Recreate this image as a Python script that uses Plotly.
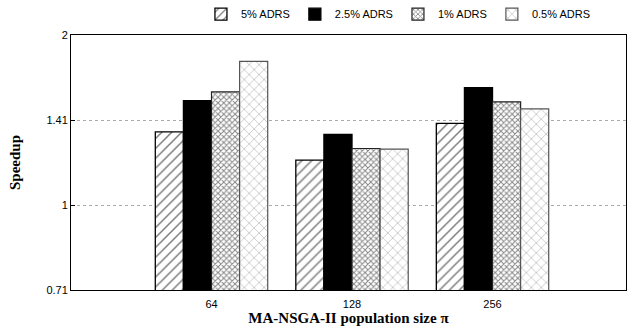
import plotly.graph_objects as go

# Population sizes and measured speedups per ADRS threshold
populations = ["64", "128", "256"]
speedup_5 = [1.347, 1.201, 1.395]
speedup_2_5 = [1.531, 1.333, 1.613]
speedup_1 = [1.586, 1.259, 1.523]
speedup_0_5 = [1.796, 1.256, 1.480]

series_names = ["5% ADRS", "2.5% ADRS", "1% ADRS", "0.5% ADRS"]
y_tick_vals = [0.7071, 1.0, 1.4142, 2.0]
y_tick_text = ["0.71", "1", "1.41", "2"]

styles = [
    dict(color="white", line=dict(color="black", width=1.3),
         pattern=dict(shape="/", fgcolor="black", bgcolor="white", size=7, solidity=0.22)),
    dict(color="black", line=dict(color="black", width=1.3)),
    dict(color="white", line=dict(color="#222", width=1.2),
         pattern=dict(shape="x", fgcolor="#111", bgcolor="white", size=4, solidity=0.45)),
    dict(color="white", line=dict(color="#555", width=1.2),
         pattern=dict(shape="x", fgcolor="#777", bgcolor="white", size=7, solidity=0.2)),
]

fig = go.Figure()
for name, vals, st in zip(series_names, [speedup_5, speedup_2_5, speedup_1, speedup_0_5], styles):
    fig.add_trace(go.Bar(x=populations, y=vals, name=name, marker=st))

fig.update_layout(
    width=644, height=333,
    margin=dict(l=71, r=18, t=35, b=43, autoexpand=False),
    paper_bgcolor="white", plot_bgcolor="white",
    barmode="group", bargap=0.2, bargroupgap=0.0,
    font=dict(family="Liberation Sans, Arial, sans-serif", size=11, color="black"),
    legend=dict(orientation="h", x=0.59, xanchor="center", y=1.025, yanchor="bottom",
                font=dict(size=11), traceorder="normal", itemwidth=30,
                bgcolor="rgba(0,0,0,0)", tracegroupgap=0),
    showlegend=True,
)

fig.update_xaxes(
    type="category", range=[-1, 2.95],
    showline=True, linecolor="black", linewidth=1, mirror=True,
    ticks="", showgrid=False,
    tickfont=dict(size=11), ticklabelstandoff=4,
    title=dict(text="<b>MA-NSGA-II population size π</b>",
               font=dict(family="Liberation Serif, Times New Roman, serif", size=15),
               standoff=2),
)
fig.update_yaxes(
    type="log", range=[-0.1505, 0.30103],
    tickvals=y_tick_vals, ticktext=y_tick_text,
    showline=True, linecolor="black", linewidth=1, mirror=True,
    ticks="inside", ticklen=4, tickcolor="black",
    showgrid=True, gridcolor="#aaa", griddash="dot", gridwidth=1,
    zeroline=False,
    tickfont=dict(size=11),
    title=dict(text="<b>Speedup</b>",
               font=dict(family="Liberation Serif, Times New Roman, serif", size=15),
               standoff=22),
)

fig.write_html("out.html")
